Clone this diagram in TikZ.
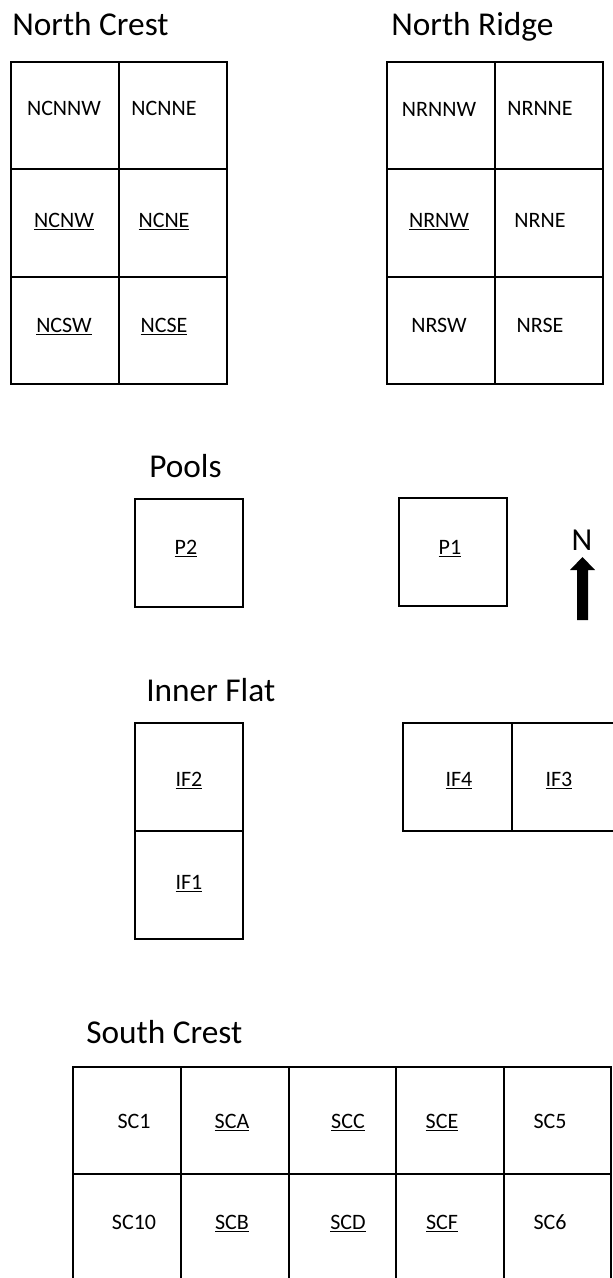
\documentclass[tikz,border=0pt]{standalone}
\usepackage{fontspec}
\setmainfont{Carlito}
\usepackage{tikz}
\tikzset{
	cellline/.style={black, line width=1.1pt},
	lab/.style={anchor=base, inner sep=0pt, font=\fontsize{16.5}{18}\selectfont},
	areaname/.style={anchor=base west, inner sep=0pt, font=\fontsize{25}{28}\selectfont}
}

\begin{document}
\begin{tikzpicture}[x=0.75pt, y=-0.75pt]
	\fill[white](0,0) rectangle (613,1278);
	\useasboundingbox (0,0) rectangle (613,1278);
	% titles
	\node[areaname] (northcrest) at (12,35) {North Crest};
	\node[areaname] (northridge) at (391,35) {North Ridge};
	\node[areaname] (pools) at (149,477) {Pools};
	\node[areaname] (innerflat) at (146,701) {Inner Flat};
	\node[areaname] (southcrest) at (86,1043) {South Crest};
	% north crest and north ridge grids
	\foreach \x in {11,387}{
		\draw[cellline](\x,62) rectangle (\x+216,384);
		\draw[cellline](\x+108,62)--(\x+108,384);
		\draw[cellline](\x,169)--(\x+216,169) (\x,277)--(\x+216,277);
	}
	% pools
	\draw[cellline](135,499) rectangle (243,607);
	\draw[cellline](399,498) rectangle (507,606);
	% inner flat
	\draw[cellline](135,723) rectangle (243,939);
	\draw[cellline](135,831)--(243,831);
	\draw[cellline](403,723) rectangle (620,831);
	\draw[cellline](512,723)--(512,831);
	% south crest
	\draw[cellline](73,1067) rectangle (611,1281);
	\draw[cellline](73,1174)--(611,1174);
	\foreach \x in {181,289,396,504}{
		\draw[cellline](\x,1067)--(\x,1281);
	}
	% plain labels
	\foreach \nm/\x/\y in {NCNNW/64/115, NCNNE/164/115, NRNNW/439/116, NRNNE/540/115,
		NRNE/540/227, NRSW/439/332, NRSE/540/332,
		SC1/134/1128, SC10/134/1229, SC5/550/1128, SC6/550/1229}{
		\node[lab] (\nm) at (\x,\y) {\nm};
	}
	% underlined labels
	\foreach \nm/\x/\y in {NCNW/64/227, NCNE/164/227, NCSW/64/332, NCSE/164/332, NRNW/439/227,
		P2/186/554, P1/450/554, IF2/189/786, IF1/189/889, IF4/459/786, IF3/559/786,
		SCA/232/1128, SCB/232/1229, SCC/348/1128, SCD/348/1229, SCE/442/1128, SCF/442/1229}{
		\node[lab] (\nm) at (\x,\y) {\underline{\nm}};
	}
	% north arrow
	\node[lab, font=\fontsize{24}{26}\selectfont] (north) at (582,550) {N};
	\fill[black](582.5,557)--(595,570)--(588,570)--(588,620)--(577,620)--(577,570)--(570,570)--cycle;
\end{tikzpicture}
\end{document}
